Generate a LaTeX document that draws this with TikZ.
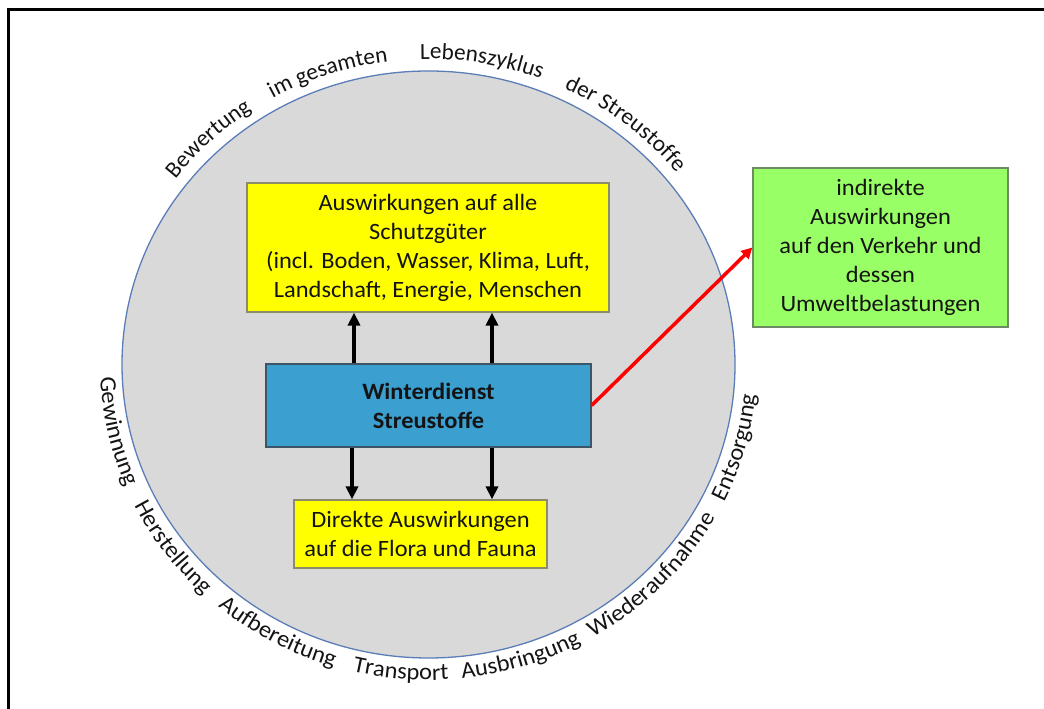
\documentclass[tikz,border=0pt]{standalone}
\usepackage{fontspec}
\setmainfont{Carlito}[FakeStretch=1.044]
\newfontfamily\plaincarlito{Carlito}
\usetikzlibrary{arrows.meta,decorations.text}
\definecolor{circfill}{HTML}{D9D9D9}
\definecolor{circline}{HTML}{5B7DB8}
\definecolor{boxyellow}{HTML}{FFFF00}
\definecolor{yborder}{HTML}{8C8C6A}
\definecolor{boxblue}{HTML}{3BA0D0}
\definecolor{bborder}{HTML}{3E5566}
\definecolor{boxgreen}{HTML}{99FF66}
\definecolor{gborder}{HTML}{6E8A62}
\definecolor{txt}{HTML}{141414}
\newcommand\diafont{\fontsize{23.4}{29}\selectfont}
\newcommand\topfont{\plaincarlito\fontsize{23.2}{29}\selectfont}
\newcommand\arcup[2]{%
  \path[decorate,decoration={text along path,text align=center,text color=txt,text={|\topfont|#2}}]
    ([shift={(c)}]#1+35:318.5pt and 305.5pt) arc[start angle=#1+35,end angle=#1-35,x radius=318.5pt,y radius=305.5pt];}
\newcommand\arcdown[2]{%
  \path[decorate,decoration={text along path,text align=center,text color=txt,text={|\diafont|#2}}]
    ([shift={(c)}]#1-35:328.5pt and 315.5pt) arc[start angle=#1-35,end angle=#1+35,x radius=328.5pt,y radius=315.5pt];}
\begin{document}
\begin{tikzpicture}[x=1pt,y=1pt,
  box/.style={line width=1.2pt, align=center, inner sep=0pt, font=\diafont, text=txt},
  blk/.style={line width=3.5pt, draw=black, -{Triangle[width=12pt,length=13pt]}},
  redarrow/.style={line width=3.5pt, draw=red, -{Triangle[width=11pt,length=11pt]}},
  frameline/.style={line width=3pt, draw=black}
]
\useasboundingbox (0,0) rectangle (1044,709);
\coordinate (c) at (428.5,344.5);
\coordinate (f0) at (8,-10);
\coordinate (f1) at (8,699);
\coordinate (f2) at (1060,699);
\draw[frameline] (f0) -- (f1) -- (f2);

\fill[circfill] (c) ellipse [x radius=306.5, y radius=293.5];
\draw[circline, line width=1.3pt] (c) ellipse [x radius=306.5, y radius=293.5];

\node[box, fill=boxyellow, draw=yborder, minimum width=362pt, minimum height=129pt] (top) at (428,461.5)
  {Auswirkungen auf alle\\Schutzgüter\\(incl. Boden, Wasser, Klima, Luft,\\Landschaft, Energie, Menschen};
\node[box, fill=boxblue, draw=bborder, minimum width=325pt, minimum height=83pt, font=\diafont\bfseries] (blue) at (428.5,303.5)
  {Winterdienst\\Streustoffe};
\node[box, fill=boxyellow, draw=yborder, minimum width=253pt, minimum height=68pt] (bot) at (420.5,175)
  {Direkte Auswirkungen\\auf die Flora und Fauna};
\node[box, fill=boxgreen, draw=gborder, minimum width=255pt, minimum height=159pt] (green) at (880.5,461.5)
  {indirekte\\Auswirkungen\\auf den Verkehr und\\dessen\\Umweltbelastungen};

\coordinate (ux1) at (354,0);
\coordinate (ux2) at (492,0);
\coordinate (dx1) at (352,0);
\coordinate (dx2) at (492,0);
\draw[blk] (blue.north -| ux1) -- (top.south -| ux1);
\draw[blk] (blue.north -| ux2) -- (top.south -| ux2);
\draw[blk] (blue.south -| dx1) -- (bot.north -| dx1);
\draw[blk] (blue.south -| dx2) -- (bot.north -| dx2);
\draw[redarrow] (blue.east) -- (green.west);

\arcup{133.5}{Bewertung}
\arcup{108.5}{im gesamten}
\arcup{80.3}{Lebenszyklus}
\arcup{51.5}{der Streustoffe}

\arcdown{192.5}{Gewinnung}
\arcdown{216.4}{Herstellung}
\arcdown{241.4}{Aufbereitung}
\arcdown{265}{Transport}
\arcdown{287}{Ausbringung}
\arcdown{315.8}{Wiederaufnahme}
\arcdown{344.5}{Entsorgung}
\end{tikzpicture}
\end{document}
